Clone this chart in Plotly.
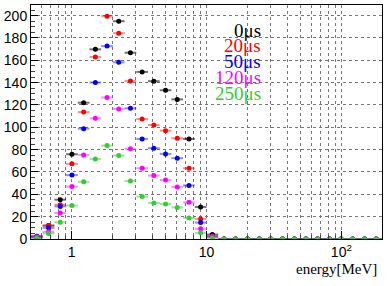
import numpy as np
import plotly.graph_objects as go

# 30 logarithmic energy bins from 0.5 to 200 MeV
e_min, e_max, n_bins = 0.5, 200.0, 30

labels = ["0μs", "20μs", "50μs", "120μs", "250μs"]
colors = ["#000000", "#ff0000", "#0000ff", "#ff00ff", "#33cc33"]
bar_colors = ["rgba(0,0,0,0.55)", "rgba(255,0,0,0.45)", "rgba(0,0,255,0.45)",
              "rgba(255,0,255,0.45)", "rgba(51,204,51,0.5)"]

z14 = [0.0] * 14
counts_0 = [1.5, 12.0, 35.2, 75.9, 122, 169.8, 212, 195, 166.8, 149.6, 141.3, 133.2, 125, 89.6, 28.7, 4.0] + z14
counts_20 = [2.5, 12.0, 30.7, 67.3, 113.6, 163, 199.5, 184.3, 141.5, 107.4, 102, 97, 90.2, 63.4, 18.0, 2.5] + z14
counts_50 = [2.5, 10.0, 29.2, 57.2, 98.8, 140.1, 172.7, 158.2, 117, 89.6, 81.3, 76.2, 72.4, 48.0, 14.7, 2.0] + z14
counts_120 = [2.0, 6.4, 23.3, 47.0, 75.3, 108, 126.7, 116.5, 80.7, 63.4, 56.8, 52.8, 46.5, 32.8, 9.1, 2.3] + z14
counts_250 = [0.8, 5.0, 15.0, 29.9, 51.2, 71.7, 83.6, 74.7, 52.0, 38.0, 32.2, 31.4, 28.3, 18.9, 5.5, 1.0] + z14
series = [counts_0, counts_20, counts_50, counts_120, counts_250]

y_ticks = list(range(0, 201, 20))
x_major = [1, 10, 100]
x_major_text = ["1", "10", "10<sup>2</sup>"]
x_minor = [0.6, 0.7, 0.8, 0.9] + [m for m in range(2, 10)] + [10 * m for m in range(2, 10)] + [200]

edges = e_min * (e_max / e_min) ** (np.arange(n_bins + 1) / n_bins)
centers = np.sqrt(edges[:-1] * edges[1:])
err_minus = centers - edges[:-1]
err_plus = edges[1:] - centers

fig = go.Figure()
for lab, col, bcol, vals in zip(labels, colors, bar_colors, series):
    fig.add_trace(go.Scatter(
        x=centers, y=vals, mode="markers", name=lab,
        marker=dict(color=col, size=5, symbol="circle"),
        error_x=dict(type="data", symmetric=False, array=err_plus, arrayminus=err_minus,
                     color=bcol, thickness=2, width=0),
        showlegend=False,
    ))

grid = dict(gridcolor="#777777", griddash="dot", gridwidth=1)
fig.update_layout(
    width=388, height=286,
    margin=dict(l=28, r=6, t=4, b=47),
    paper_bgcolor="white", plot_bgcolor="white",
    font=dict(family="Liberation Sans", size=14, color="black"),
    xaxis=dict(type="log", range=[np.log10(e_min), np.log10(e_max)],
               tickmode="array", tickvals=x_major, ticktext=x_major_text,
               ticks="inside", ticklen=8, tickcolor="black",
               showline=True, linecolor="black", linewidth=1, mirror=True,
               showgrid=True, **grid, zeroline=False,
               minor=dict(tickmode="array", tickvals=x_minor, ticks="inside", ticklen=4,
                          tickcolor="#444", showgrid=True, **grid),
               tickfont=dict(size=14)),
    yaxis=dict(range=[0, 209.5], tickmode="array", tickvals=y_ticks,
               ticks="inside", ticklen=7, tickcolor="black",
               showline=True, linecolor="black", linewidth=1, mirror=True,
               showgrid=True, **grid, zeroline=False,
               minor=dict(dtick=5, ticks="inside", ticklen=4, tickcolor="#444", showgrid=False),
               tickfont=dict(size=14)),
)

# legend texts
y_paper = [29.5, 45.0, 61.0, 76.5, 92.5]
for lab, col, yp in zip(labels, colors, y_paper):
    fig.add_annotation(text=lab, xref="paper", yref="paper",
                       x=(262 - 28) / 354, y=1 - (yp - 4) / 235,
                       xanchor="right", yanchor="middle", showarrow=False,
                       font=dict(family="Liberation Serif", size=19, color=col))

fig.add_annotation(text="energy[MeV]", xref="paper", yref="paper",
                   x=(379 - 28) / 354, y=1 - (269 - 4) / 235,
                   xanchor="right", yanchor="middle", showarrow=False,
                   font=dict(family="Liberation Serif", size=15, color="black"))

fig.write_html("out.html", config={"displayModeBar": False},
               post_script="document.body.style.margin='0px';")
